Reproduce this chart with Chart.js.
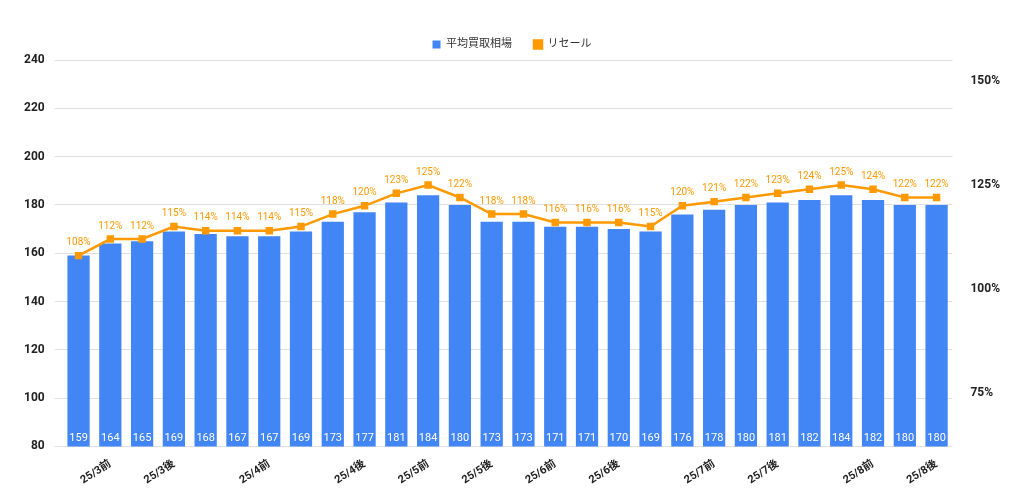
<!DOCTYPE html>
<html><head><meta charset="utf-8">
<script src="https://cdn.jsdelivr.net/npm/chart.js@4"></script>
<style>body{margin:0;background:#fff}#w{width:1024px;height:496px}</style>
</head><body><div id="w"><canvas id="c"></canvas></div>
<script>
const categories = ['', '25/3前', '', '25/3後', '', '', '25/4前', '', '', '25/4後', '', '25/5前', '', '25/5後', '', '25/6前', '', '25/6後', '', '', '25/7前', '', '25/7後', '', '', '25/8前', '', '25/8後'];
const buyPrices = [159,164,165,169,168,167,167,169,173,177,181,184,180,173,173,171,171,170,169,176,178,180,181,182,184,182,180,180];
const resalePct = [108,112,112,115,114,114,114,115,118,120,123,125,122,118,118,116,116,116,115,120,121,122,123,124,125,124,122,122];
const leftTicks = [80,100,120,140,160,180,200,220,240];
const rightTicks = [75,100,125,150];
const FONT = "Roboto, 'Noto Sans CJK JP', sans-serif";
const BLUE = '#4285F4', ORANGE = '#FF9900';

const labelPlugin = {
  id: 'labels',
  afterDatasetsDraw(chart) {
    const ctx = chart.ctx;
    ctx.save();
    ctx.textAlign = 'center';
    const bars = chart.getDatasetMeta(1).data;
    ctx.font = "11px " + FONT;
    ctx.fillStyle = '#ffffff';
    ctx.textBaseline = 'bottom';
    bars.forEach((b, i) => ctx.fillText(buyPrices[i], b.x, chart.chartArea.bottom - 3));
    const pts = chart.getDatasetMeta(0).data;
    ctx.font = "10px " + FONT;
    ctx.fillStyle = ORANGE;
    pts.forEach((p, i) => ctx.fillText(resalePct[i] + '%', p.x, p.y - 8));
    ctx.restore();
  }
};

new Chart(document.getElementById('c'), {
  data: {
    labels: categories,
    datasets: [
      { type: 'line', label: 'リセール', data: resalePct, yAxisID: 'y2', borderColor: ORANGE, backgroundColor: ORANGE,
        borderWidth: 2.5, pointStyle: 'rect', pointRadius: 3.5, pointHoverRadius: 3.5, order: 0 },
      { type: 'bar', label: '平均買取相場', data: buyPrices, yAxisID: 'y', backgroundColor: BLUE,
        barPercentage: 0.7, categoryPercentage: 1, order: 1 }
    ]
  },
  options: {
    responsive: true, maintainAspectRatio: false, animation: false,
    layout: { padding: { left: 14, right: 14, top: 17, bottom: 6 } },
    plugins: {
      legend: { reverse: true, labels: { usePointStyle: true, pointStyle: 'rect', boxWidth: 8, boxHeight: 8,
        font: { family: FONT, size: 11 }, color: '#333', padding: 22 } },
      tooltip: { enabled: false }
    },
    scales: {
      x: { grid: { display: false }, border: { display: false },
        ticks: { autoSkip: false, maxRotation: 33, minRotation: 33, color: '#222',
          font: { family: FONT, size: 11, weight: 'bold' } } },
      y: { min: 80, max: 240, position: 'left', border: { display: false },
        grid: { color: '#e0e0e0' },
        afterBuildTicks: s => { s.ticks = leftTicks.map(v => ({ value: v })); },
        ticks: { color: '#222', padding: 10, font: { family: FONT, size: 12, weight: 'bold' } } },
      y2: { min: 62.07, max: 155.1, position: 'right', border: { display: false },
        grid: { display: false },
        afterBuildTicks: s => { s.ticks = rightTicks.map(v => ({ value: v })); },
        ticks: { color: '#222', padding: 10, callback: v => v + '%', font: { family: FONT, size: 12, weight: 'bold' } } }
    }
  },
  plugins: [labelPlugin]
});
</script></body></html>
